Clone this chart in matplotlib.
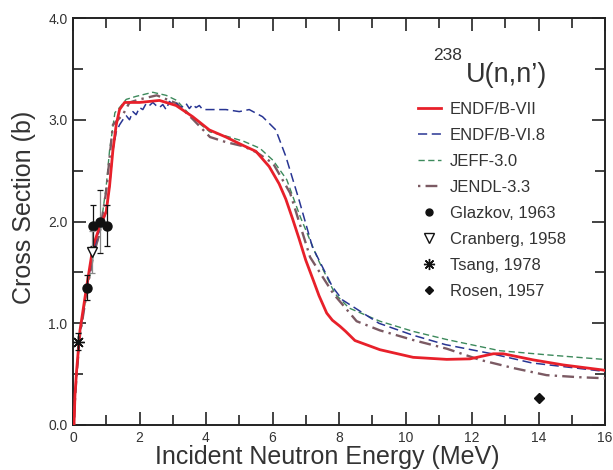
import numpy as np
import matplotlib
matplotlib.use("Agg")
import matplotlib.pyplot as plt
from matplotlib.lines import Line2D
from matplotlib.ticker import MultipleLocator, FixedLocator, FixedFormatter

plt.rcParams['font.family'] = ['Liberation Sans', 'DejaVu Sans']

# ---- evaluated cross sections (energy in MeV, sigma in barns) ----
e_endf7 = [0.03, 0.06, 0.11, 0.21, 0.41, 0.6, 0.8, 0.9, 1.0, 1.1, 1.2, 1.3, 1.4, 1.55,
           2.0, 2.6, 3.1, 3.6, 4.1, 4.6, 5.1, 5.5, 5.9, 6.2, 6.4, 6.6, 6.8, 7.0, 7.23,
           7.4, 7.63, 7.8, 8.03, 8.2, 8.48, 9.23, 10.23, 11.24, 11.94, 12.64, 12.94,
           13.84, 14.75, 15.95, 16.0]
s_endf7 = [0.0, 0.3, 0.54, 0.93, 1.36, 1.75, 1.95, 2.02, 2.1, 2.35, 2.7, 2.95, 3.1, 3.17,
           3.17, 3.19, 3.14, 3.03, 2.90, 2.83, 2.75, 2.69, 2.54, 2.37, 2.22, 2.03, 1.83,
           1.62, 1.42, 1.27, 1.10, 1.03, 0.97, 0.92, 0.83, 0.74, 0.665, 0.645, 0.65, 0.70,
           0.70, 0.64, 0.59, 0.54, 0.535]

e_endf68 = [0.03, 0.06, 0.11, 0.21, 0.41, 0.6, 0.8, 0.9, 1.0, 1.1, 1.2, 1.3, 1.4, 1.5,
            1.6, 1.7, 1.8, 1.9, 2.0, 2.1, 2.2, 2.3, 2.4, 2.5, 2.6, 2.7, 2.8, 2.9, 3.0,
            3.1, 3.2, 3.3, 3.4, 3.5, 3.6, 3.7, 3.8, 3.9, 4.1, 4.6, 5.0, 5.3, 5.7, 6.1,
            6.4, 6.8, 7.2, 7.8, 8.1, 9.2, 10.2, 11.2, 12.6, 13.8, 15.9, 16.0]
s_endf68 = [0.0, 0.28, 0.52, 0.9, 1.33, 1.7, 1.92, 2.0, 2.1, 2.35, 2.7, 2.88, 2.95, 3.0,
            3.04, 3.0, 3.08, 3.05, 3.12, 3.1, 3.16, 3.14, 3.17, 3.14, 3.12, 3.15, 3.1,
            3.18, 3.15, 3.17, 3.12, 3.13, 3.16, 3.11, 3.15, 3.12, 3.14, 3.1, 3.10, 3.10,
            3.08, 3.10, 3.03, 2.90, 2.64, 2.21, 1.75, 1.36, 1.23, 1.0, 0.885, 0.79, 0.70,
            0.61, 0.53, 0.525]

e_jeff = [0.03, 0.06, 0.11, 0.21, 0.41, 0.6, 0.81, 1.0, 1.1, 1.26, 1.4, 1.6, 1.9, 2.4,
          2.8, 3.12, 3.62, 4.12, 4.6, 5.12, 5.62, 6.02, 6.43, 6.83, 7.38, 7.88, 8.3,
          9.23, 10.23, 11.24, 12.84, 14.24, 15.95, 16.0]
s_jeff = [0.0, 0.25, 0.5, 0.88, 1.3, 1.65, 1.89, 2.35, 2.7, 3.07, 3.12, 3.2, 3.23, 3.27,
          3.24, 3.19, 3.01, 2.88, 2.84, 2.79, 2.72, 2.60, 2.41, 2.05, 1.62, 1.29, 1.15,
          1.02, 0.92, 0.84, 0.73, 0.69, 0.645, 0.645]

e_jendl = [0.03, 0.06, 0.11, 0.21, 0.41, 0.6, 0.81, 1.0, 1.2, 1.5, 1.7, 2.0, 2.52, 3.12,
           3.62, 4.12, 4.6, 5.12, 5.52, 6.02, 6.53, 7.13, 7.83, 8.53, 9.23, 10.23, 11.24,
           12.24, 13.24, 14.24, 15.2, 15.95, 16.0]
s_jendl = [0.0, 0.25, 0.5, 0.88, 1.3, 1.65, 1.9, 2.3, 2.95, 3.05, 3.17, 3.2, 3.24, 3.16,
           3.0, 2.83, 2.78, 2.74, 2.68, 2.57, 2.28, 1.65, 1.29, 1.02, 0.93, 0.835, 0.75,
           0.64, 0.56, 0.49, 0.47, 0.46, 0.46]

# ---- measurements ----
e_glazkov = [0.41, 0.61, 0.81, 1.01]
s_glazkov = [1.35, 1.96, 2.00, 1.96]
d_glazkov = [0.12, 0.20, 0.31, 0.20]

e_cranberg = [0.56]
s_cranberg = [1.70]
d_cranberg = [0.21]

e_tsang = [0.14]
s_tsang = [0.82]
d_tsang = [0.08]

e_rosen = [14.0]
s_rosen = [0.27]

x_ticks = [0, 2, 4, 6, 8, 10, 12, 14, 16]
y_ticks = [0.0, 1.0, 2.0, 3.0, 4.0]
y_tick_labels = ["0.0", "1.0", "2.0", "3.0", "4.0"]

INK = '#111111'
TXT = '#333333'

fig = plt.figure(figsize=(6.13, 4.70), dpi=100)
ax = fig.add_axes([73 / 613, 1 - 425 / 470, (605 - 73) / 613, (425 - 18) / 470])

l_b7, = ax.plot(e_endf7, s_endf7, color='#e8202a', lw=2.0, zorder=5)
l_b68, = ax.plot(e_endf68, s_endf68, color='#283593', lw=1.1, dashes=(6, 3), zorder=4)
l_jeff, = ax.plot(e_jeff, s_jeff, color='#3d8a5c', lw=1.0, dashes=(4.5, 2.5), zorder=3)
l_jendl, = ax.plot(e_jendl, s_jendl, color='#7b5a63', lw=1.7,
                   dashes=(1, 2.2, 5, 2.2), zorder=3)

eb = ax.errorbar(e_glazkov, s_glazkov, yerr=d_glazkov, fmt='o', color=INK,
                 ms=6.5, ecolor=INK, elinewidth=0.9, capsize=2.5, capthick=0.9,
                 zorder=6)
eb[2][0].set_color([INK, INK, '#888888', INK])
ax.errorbar(e_cranberg, s_cranberg, yerr=d_cranberg, fmt='v', mfc='white',
            mec=INK, ms=7, ecolor='#888888', elinewidth=0.9, capsize=2.5,
            capthick=0.9, zorder=7)
ax.errorbar(e_tsang, s_tsang, yerr=d_tsang, fmt='none', ecolor=INK,
            elinewidth=0.9, capsize=2.5, capthick=0.9, zorder=6)
ax.plot(e_tsang, s_tsang, ls='none', marker=(8, 2, 0), color=INK, ms=9,
        mew=1.0, zorder=7)
ax.plot(e_rosen, s_rosen, ls='none', marker='D', color=INK, ms=5, zorder=6)

ax.set_xlim(0, 16)
ax.set_ylim(0, 4.0)
ax.xaxis.set_major_locator(FixedLocator(x_ticks))
ax.xaxis.set_minor_locator(MultipleLocator(1))
ax.yaxis.set_major_locator(FixedLocator(y_ticks))
ax.yaxis.set_major_formatter(FixedFormatter(y_tick_labels))
ax.yaxis.set_minor_locator(MultipleLocator(0.5))
ax.tick_params(which='both', direction='in', top=True, right=True, width=1.2,
               colors='#222222', labelcolor=TXT)
ax.tick_params(which='major', length=9.5, labelsize=10)
ax.tick_params(which='minor', length=7.5)
ax.tick_params(axis='x', pad=4.5)
ax.tick_params(axis='y', pad=4)
for sp in ax.spines.values():
    sp.set_linewidth(1.4)
    sp.set_color('#222222')

fig.text(327 / 613, 1 - 457 / 470, 'Incident Neutron Energy (MeV)', fontsize=18,
         ha='center', va='center', color=TXT)
fig.text(24 / 613, 1 - 207 / 470, 'Cross Section (b)', fontsize=18, rotation=90,
         ha='center', va='center', color=TXT)

fig.text(433 / 613, 1 - 56 / 470, '238', fontsize=12.5, ha='left', va='center',
         color=TXT)
fig.text(466 / 613, 1 - 75 / 470, 'U(n,n\u2019)', fontsize=19.5, ha='left',
         va='center', color=TXT)

# legend entries in the order of the key
handles = [
    l_b7, l_b68, l_jeff, l_jendl,
    Line2D([], [], ls='none', marker='o', color=INK, ms=5),
    Line2D([], [], ls='none', marker='v', mfc='white', mec=INK, ms=6.5),
    Line2D([], [], ls='none', marker=(8, 2, 0), color=INK, ms=8, mew=1.0),
    Line2D([], [], ls='none', marker='D', color=INK, ms=4.5),
]
labels = ['ENDF/B-VII', 'ENDF/B-VI.8', 'JEFF-3.0', 'JENDL-3.3',
          'Glazkov, 1963', 'Cranberg, 1958', 'Tsang, 1978', 'Rosen, 1957']
leg = ax.legend(handles, labels, loc='upper left',
                bbox_to_anchor=(418 / 613, 1 - 102 / 470),
                bbox_transform=fig.transFigure, frameon=False, fontsize=12,
                handlelength=1.35, handletextpad=0.55, labelspacing=0.66,
                borderpad=0, borderaxespad=0)
for t in leg.get_texts():
    t.set_color(TXT)

fig.savefig('out.png', dpi=100)
